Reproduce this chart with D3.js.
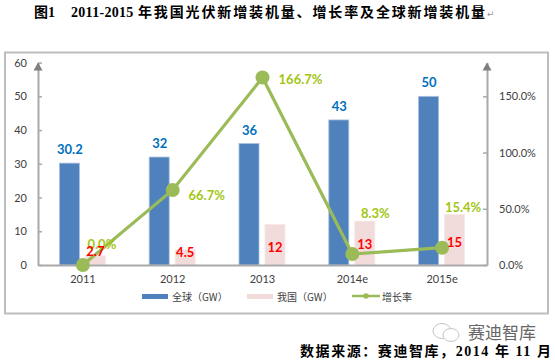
<!DOCTYPE html>
<html>
<head>
<meta charset="utf-8">
<script src="https://cdn.jsdelivr.net/npm/d3@7"></script>
<style>
  html, body { margin: 0; padding: 0; background: #fff; }
  svg { display: block; }
  text { font-family: Lato, "Noto Sans CJK SC", sans-serif; }
</style>
</head>
<body>
<svg id="chart" width="555" height="361"></svg>
<script>
const years = ["2011", "2012", "2013", "2014e", "2015e"];
const globalGW = [30.2, 32, 36, 43, 50];
const chinaGW = [2.7, 4.5, 12, 13, 15];
const growthRate = [0, 66.7, 166.7, 9.8, 15.4];
const growthLabels = ["0.0%", "66.7%", "166.7%", "8.3%", "15.4%"];
const leftTicks = [0, 10, 20, 30, 40, 50, 60];
const rightTicks = [0, 50, 100, 150];

const svg = d3.select("#chart");
const axisColor = "#a9a9a9";
const blue = "#4f81bd", pink = "#f2dcdb", green = "#9bbb59";
const plotTop = 62.6, plotBottom = 265, plotLeft = 38, plotRight = 487;

// frame
svg.append("rect")
   .attr("x", 5).attr("y", 52.5).attr("width", 543).attr("height", 261)
   .attr("fill", "#fff").attr("stroke", "#bdbdbd").attr("stroke-width", 2);

// scales
const x = d3.scaleBand().domain(years).range([plotLeft, plotRight]);
const y = d3.scaleLinear().domain([0, 60]).range([plotBottom, plotTop]);
const yRate = d3.scaleLinear().domain([0, 180]).range([plotBottom, plotTop]);
const cx = d => x(d) + x.bandwidth() / 2;

// bars
svg.append("g").selectAll("rect").data(years).join("rect")
   .attr("x", d => cx(d) - 23.5)
   .attr("width", 20)
   .attr("y", (d, i) => y(globalGW[i]))
   .attr("height", (d, i) => plotBottom - y(globalGW[i]))
   .attr("fill", blue).attr("stroke", "#a9c0dd").attr("stroke-width", 0.8);

svg.append("g").selectAll("rect").data(years).join("rect")
   .attr("x", d => cx(d) + 2.5)
   .attr("width", 20)
   .attr("y", (d, i) => y(chinaGW[i]))
   .attr("height", (d, i) => plotBottom - y(chinaGW[i]))
   .attr("fill", pink).attr("stroke", "#f6e8e7").attr("stroke-width", 0.8);

// axes
const styleAxis = g => {
  g.selectAll("path, line").attr("stroke", axisColor);
  g.select(".domain").attr("stroke-width", 2);
  g.selectAll("line").attr("stroke-width", 1.5);
  g.selectAll("text").attr("fill", "#404040").style("font-family", "Lato, sans-serif").style("font-size", "11px");
};

svg.append("g").attr("transform", `translate(${plotLeft},0)`)
   .call(d3.axisLeft(y).tickValues(leftTicks).tickSizeInner(-4).tickSizeOuter(0).tickPadding(11))
   .call(styleAxis);

svg.append("g").attr("transform", `translate(${plotRight},0)`)
   .call(d3.axisRight(yRate).tickValues(rightTicks).tickSizeInner(-4).tickSizeOuter(0).tickPadding(12)
           .tickFormat(d => d.toFixed(1) + "%"))
   .call(styleAxis);

svg.append("g").attr("transform", `translate(0,${plotBottom})`)
   .call(d3.axisBottom(x).tickSize(0).tickPadding(10))
   .call(styleAxis);

// arrow heads on both value axes
[plotLeft, plotRight].forEach(ax => {
  svg.append("path")
     .attr("d", `M${ax},${plotTop}l4.5,8h-9z`)
     .attr("fill", "#7f7f7f");
});

// growth line
const line = d3.line().x((d, i) => cx(years[i])).y(d => yRate(d));
svg.append("path").datum(growthRate)
   .attr("d", line).attr("fill", "none")
   .attr("stroke", green).attr("stroke-width", 3.2);
svg.append("g").selectAll("circle").data(growthRate).join("circle")
   .attr("cx", (d, i) => cx(years[i])).attr("cy", d => yRate(d))
   .attr("r", 7).attr("fill", green);

// data labels
const labelFont = "bold 13px Lato, sans-serif";
const rateDx = [19, 34, 38, 23, 21];
const rateDy = [-21, 5, 1.5, -41, -41];
const chinaDrop = [14, 13, 18, 21, 23];

svg.append("g").selectAll("text").data(growthLabels).join("text")
   .attr("x", (d, i) => cx(years[i]) + rateDx[i])
   .attr("y", (d, i) => yRate(growthRate[i]) + rateDy[i])
   .attr("text-anchor", "middle").attr("dominant-baseline", "central")
   .style("font", labelFont).attr("fill", "#a2c613")
   .text(d => d);

svg.append("g").selectAll("text").data(chinaGW).join("text")
   .attr("x", (d, i) => cx(years[i]) + 12.5)
   .attr("y", (d, i) => plotBottom - chinaDrop[i])
   .attr("text-anchor", "middle").attr("dominant-baseline", "central")
   .style("font", labelFont).attr("fill", "#ff0000")
   .text(d => d);

svg.append("g").selectAll("text").data(globalGW).join("text")
   .attr("x", (d, i) => cx(years[i]) - 13)
   .attr("y", d => y(d) - 14)
   .attr("text-anchor", "middle").attr("dominant-baseline", "central")
   .style("font", labelFont).attr("fill", "#0070c0")
   .text(d => d);

// legend
const legendText = (tx, s) => svg.append("text")
   .attr("x", tx).attr("y", 296).attr("dominant-baseline", "central")
   .style("font", "10px 'Noto Sans CJK SC', sans-serif").attr("fill", "#404040").text(s);

svg.append("rect").attr("x", 142).attr("y", 294).attr("width", 26).attr("height", 5).attr("fill", blue);
legendText(172, "全球（GW）");
svg.append("rect").attr("x", 247).attr("y", 294).attr("width", 26).attr("height", 5).attr("fill", pink);
legendText(277, "我国（GW）");
svg.append("line").attr("x1", 352).attr("x2", 380).attr("y1", 296).attr("y2", 296)
   .attr("stroke", green).attr("stroke-width", 2.5);
svg.append("circle").attr("cx", 366).attr("cy", 296).attr("r", 2.8).attr("fill", green);
legendText(382, "增长率");

// title
const pageFont = "bold 14px 'Liberation Serif', 'Noto Sans CJK SC', serif";
svg.append("text").attr("x", 34).attr("y", 17)
   .style("font", pageFont).attr("fill", "#000").text("图1");
svg.append("text").attr("x", 71).attr("y", 17)
   .style("font", pageFont).style("letter-spacing", "0.3px").attr("fill", "#000").text("2011-2015");
svg.append("text").attr("x", 138).attr("y", 17)
   .style("font", pageFont).style("letter-spacing", "1.86px").attr("fill", "#000")
   .text("年我国光伏新增装机量、增长率及全球新增装机量");
svg.append("text").attr("x", 487).attr("y", 17)
   .style("font", "9px 'DejaVu Sans'").attr("fill", "#999").text("↵");

// watermark
const icon = svg.append("g").attr("fill", "#fff").attr("stroke", "#c4c4c4").attr("stroke-width", 1);
icon.append("ellipse").attr("cx", 442).attr("cy", 331).attr("rx", 9).attr("ry", 7.5);
icon.append("ellipse").attr("cx", 451).attr("cy", 335).attr("rx", 8).attr("ry", 6.5);
svg.append("text").attr("x", 468).attr("y", 339)
   .style("font", "17px 'Noto Sans CJK SC', sans-serif").attr("fill", "#666").text("赛迪智库");

// source line
svg.append("text").attr("x", 300).attr("y", 356)
   .style("font", "bold 14px 'Liberation Serif', 'Noto Sans CJK SC', serif")
   .attr("textLength", 251).attr("fill", "#000")
   .text("数据来源：赛迪智库，2014 年 11 月");
</script>
</body>
</html>
